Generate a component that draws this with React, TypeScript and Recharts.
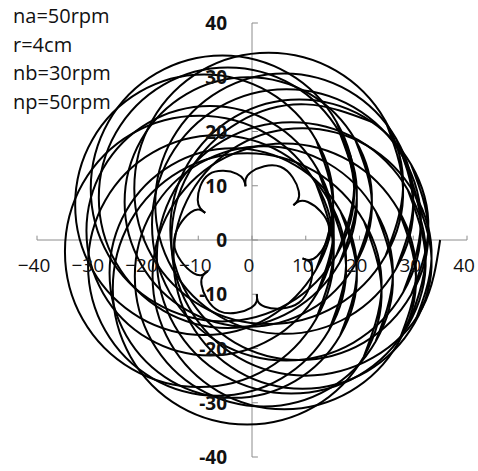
import { LineChart, Line, XAxis, YAxis, ReferenceLine, ReferenceDot } from 'recharts';

type Pt = [number, number];

const axisTicks = [-40, -30, -20, -10, 0, 10, 20, 30, 40];
const xTickLabels = ['−40', '−30', '−20', '−10', '0', '10', '20', '30', '40'];
const yTickLabels = ['-40', '-30', '-20', '-10', '0', '10', '20', '30', '40'];
const settings = ['na=50rpm', 'r=4cm', 'nb=30rpm', 'np=50rpm'];

// open end of the trace: starts at the right on the x axis and runs clockwise
const tailLoop: Pt[] = [[35.0, 0], [31.7, -12.5], [22.5, -21.7], [10.0, -25.0], [-2.5, -21.7], [-11.7, -12.5], [-15.0, 0], [-11.7, 12.5], [-2.5, 21.7], [10.0, 25.0], [22.5, 21.7]];

// closed loops, each traced clockwise
const loop02: Pt[] = [[31.4, 2.8], [28.1, -9.7], [18.9, -18.9], [6.4, -22.2], [-6.1, -18.9], [-15.3, -9.7], [-18.6, 2.8], [-15.3, 15.3], [-6.1, 24.5], [6.4, 27.8], [18.9, 24.5], [28.1, 15.3]];
const loop03: Pt[] = [[30.0, 6.7], [26.8, -5.3], [18.0, -14.1], [6.0, -17.3], [-6.0, -14.1], [-14.8, -5.3], [-18.0, 6.7], [-14.8, 18.7], [-6.0, 27.5], [6.0, 30.7], [18.0, 27.5], [26.8, 18.7]];
const loop04: Pt[] = [[28.1, 9.5], [24.8, -3.0], [15.6, -12.2], [3.1, -15.5], [-9.4, -12.2], [-18.6, -3.0], [-21.9, 9.5], [-18.6, 22.0], [-9.4, 31.2], [3.1, 34.5], [15.6, 31.2], [24.8, 22.0]];
const loop05: Pt[] = [[22.3, 7.0], [19.2, -4.5], [10.8, -12.9], [-0.7, -16.0], [-12.2, -12.9], [-20.6, -4.5], [-23.7, 7.0], [-20.6, 18.5], [-12.2, 26.9], [-0.7, 30.0], [10.8, 26.9], [19.2, 18.5]];
const loop06: Pt[] = [[19.5, 7.8], [16.3, -4.2], [7.5, -13.0], [-4.5, -16.2], [-16.5, -13.0], [-25.3, -4.2], [-28.5, 7.8], [-25.3, 19.8], [-16.5, 28.6], [-4.5, 31.8], [7.5, 28.6], [16.3, 19.8]];
const loop07: Pt[] = [[15.1, 6.5], [11.9, -5.5], [3.1, -14.3], [-8.9, -17.5], [-20.9, -14.3], [-29.7, -5.5], [-32.9, 6.5], [-29.7, 18.5], [-20.9, 27.3], [-8.9, 30.5], [3.1, 27.3], [11.9, 18.5]];
const loop08: Pt[] = [[15.2, 1.7], [12.1, -9.8], [3.7, -18.2], [-7.8, -21.3], [-19.3, -18.2], [-27.7, -9.8], [-30.8, 1.7], [-27.7, 13.2], [-19.3, 21.6], [-7.8, 24.7], [3.7, 21.6], [12.1, 13.2]];
const loop09: Pt[] = [[15.2, -2.1], [11.9, -14.6], [2.7, -23.8], [-9.8, -27.1], [-22.3, -23.8], [-31.5, -14.6], [-34.8, -2.1], [-31.5, 10.4], [-22.3, 19.6], [-9.8, 22.9], [2.7, 19.6], [11.9, 10.4]];
const loop10: Pt[] = [[17.5, -4.7], [14.3, -16.7], [5.5, -25.5], [-6.5, -28.7], [-18.5, -25.5], [-27.3, -16.7], [-30.5, -4.7], [-27.3, 7.3], [-18.5, 16.1], [-6.5, 19.3], [5.5, 16.1], [14.3, 7.3]];
const loop11: Pt[] = [[19.5, -6.1], [16.4, -17.6], [8.0, -26.0], [-3.5, -29.1], [-15.0, -26.0], [-23.4, -17.6], [-26.5, -6.1], [-23.4, 5.4], [-15.0, 13.8], [-3.5, 16.9], [8.0, 13.8], [16.4, 5.4]];
const loop12: Pt[] = [[24.1, -9.0], [20.8, -21.5], [11.6, -30.7], [-0.9, -34.0], [-13.4, -30.7], [-22.6, -21.5], [-25.9, -9.0], [-22.6, 3.5], [-13.4, 12.7], [-0.9, 16.0], [11.6, 12.7], [20.8, 3.5]];
const loop13: Pt[] = [[26.2, -6.7], [23.0, -18.7], [14.2, -27.5], [2.2, -30.7], [-9.8, -27.5], [-18.6, -18.7], [-21.8, -6.7], [-18.6, 5.3], [-9.8, 14.1], [2.2, 17.3], [14.2, 14.1], [23.0, 5.3]];
const loop14: Pt[] = [[30.5, -6.7], [27.2, -19.0], [18.3, -27.9], [6.0, -31.2], [-6.3, -27.9], [-15.2, -19.0], [-18.5, -6.7], [-15.2, 5.6], [-6.3, 14.5], [6.0, 17.8], [18.3, 14.5], [27.2, 5.6]];
const loop15: Pt[] = [[32.3, -3.3], [29.0, -15.8], [19.8, -25.0], [7.3, -28.3], [-5.2, -25.0], [-14.4, -15.8], [-17.7, -3.3], [-14.4, 9.2], [-5.2, 18.4], [7.3, 21.7], [19.8, 18.4], [29.0, 9.2]];
const loop16: Pt[] = [[32.8, 1.9], [29.6, -10.1], [20.8, -18.9], [8.8, -22.1], [-3.2, -18.9], [-12.0, -10.1], [-15.2, 1.9], [-12.0, 13.9], [-3.2, 22.7], [8.8, 25.9], [20.8, 22.7], [29.6, 13.9]];
const loop17: Pt[] = [[19.0, 9.5], [15.7, -2.8], [6.8, -11.7], [-5.5, -15.0], [-17.8, -11.7], [-26.7, -2.8], [-30.0, 9.5], [-26.7, 21.8], [-17.8, 30.7], [-5.5, 34.0], [6.8, 30.7], [15.7, 21.8]];
const loop18: Pt[] = [[33.4, -3.4], [30.2, -15.4], [21.4, -24.2], [9.4, -27.4], [-2.6, -24.2], [-11.4, -15.4], [-14.6, -3.4], [-11.4, 8.6], [-2.6, 17.4], [9.4, 20.6], [21.4, 17.4], [30.2, 8.6]];

// inner six-cusp flower, one lobe per list (cusp to cusp)
const lobeA: Pt[] = [[-1.2, 9.9], [-0.2, 12.5], [5.3, 13.5], [8.7, 9.0], [7.7, 6.4]];
const lobeB: Pt[] = [[7.7, 6.4], [10.4, 7.0], [14.3, 2.5], [12.1, -3.0], [9.4, -3.4]];
const lobeC: Pt[] = [[9.4, -3.4], [11.2, -5.5], [8.8, -11.5], [2.4, -12.3], [0.9, -10.0]];
const lobeD: Pt[] = [[0.9, -10.0], [-0.2, -12.5], [-6.1, -13.1], [-9.4, -8.2], [-8.2, -5.7]];
const lobeE: Pt[] = [[-8.2, -5.7], [-10.9, -6.1], [-14.5, -0.6], [-11.4, 5.1], [-8.7, 5.0]];
const lobeF: Pt[] = [[-8.7, 5.0], [-10.1, 7.4], [-8.0, 12.1], [-2.8, 12.2], [-1.2, 9.9]];

const closedLoops = [loop02, loop03, loop04, loop05, loop06, loop07, loop08, loop09, loop10, loop11, loop12, loop13, loop14, loop15, loop16, loop17, loop18];
const lobes = [lobeA, lobeB, lobeC, lobeD, lobeE, lobeF];

const toPoints = (pts: Pt[]) => pts.map(([x, y]) => ({ x, y }));
// wrap the ends around so the spline closes without a kink
const closeLoop = (pts: Pt[]) => toPoints([pts[pts.length - 1], ...pts, pts[0], pts[1]]);

const series = [toPoints(tailLoop), ...closedLoops.map(closeLoop), ...lobes.map(toPoints)];

const FONT = '"Open Sans", sans-serif';
const AXIS_COLOR = '#8c8c8c';

export default function App() {
  return (
    <div style={{ position: 'absolute', left: 0, top: 0, width: 478, height: 471, background: '#fff' }}>
      <LineChart width={478} height={471} margin={{ top: 23, right: 11, bottom: 14, left: 37 }}>
        <XAxis type="number" dataKey="x" domain={[-40, 40]} ticks={axisTicks} hide />
        <YAxis type="number" dataKey="y" domain={[-40, 40]} ticks={axisTicks} hide />

        <ReferenceLine y={0} stroke={AXIS_COLOR} strokeWidth={1} />
        <ReferenceLine x={0} stroke={AXIS_COLOR} strokeWidth={1} />
        {axisTicks.map((t) => (
          <ReferenceLine
            key={`xt${t}`}
            segment={[{ x: t, y: 0 }, { x: t, y: 0.8 }]}
            stroke={AXIS_COLOR}
          />
        ))}
        {axisTicks.map((t) => (
          <ReferenceLine
            key={`yt${t}`}
            segment={[{ x: 0, y: t }, { x: 1.1, y: t }]}
            stroke={AXIS_COLOR}
          />
        ))}

        {series.map((d, i) => (
          <Line
            key={`s${i}`}
            data={d}
            dataKey="y"
            type="natural"
            stroke="#000"
            strokeWidth={2}
            dot={false}
            activeDot={false}
            isAnimationActive={false}
          />
        ))}

        {axisTicks.map((t, i) => (
          <ReferenceDot
            key={`xl${t}`}
            x={t}
            y={0}
            r={0}
            shape={(p: any) => (
              <text x={p.cx - 3} y={p.cy + 32} textAnchor="middle" fontFamily={FONT} fontSize={19} fill="#111">
                {xTickLabels[i]}
              </text>
            )}
          />
        ))}
        {axisTicks.map((t, i) => (
          <ReferenceDot
            key={`yl${t}`}
            x={0}
            y={t}
            r={0}
            shape={(p: any) => (
              <text x={p.cx - 25} y={p.cy + 7} textAnchor="end" fontFamily={FONT} fontSize={19} fontWeight="bold" fill="#111">
                {yTickLabels[i]}
              </text>
            )}
          />
        ))}
      </LineChart>
      <div
        style={{
          position: 'absolute',
          left: 13,
          top: 2,
          fontFamily: FONT,
          fontSize: 20,
          lineHeight: '28.7px',
          color: '#111',
        }}
      >
        {settings.map((s) => (
          <div key={s}>{s}</div>
        ))}
      </div>
    </div>
  );
}
